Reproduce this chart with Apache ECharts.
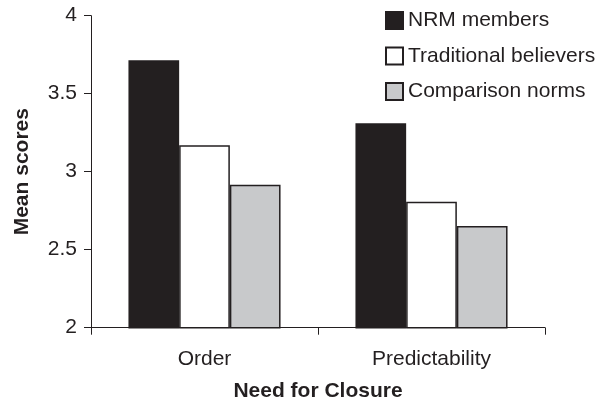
<!DOCTYPE html>
<html>
<head>
<meta charset="utf-8">
<script src="https://cdn.jsdelivr.net/npm/echarts@6/dist/echarts.min.js"></script>
<style>
html,body{margin:0;padding:0;background:#fff;}
#c{width:600px;height:401px;}
</style>
</head>
<body>
<div id="c"></div>
<script>
const categories = ["Order", "Predictability"];
const seriesNames = ["NRM members", "Traditional believers", "Comparison norms"];
const nrmMembers = [3.715, 3.31];
const traditionalBelievers = [3.17, 2.807];
const comparisonNorms = [2.917, 2.652];
const yTicks = [2, 2.5, 3, 3.5, 4];

const ink = '#231f20';
const fills = ['#231f20', '#ffffff', '#c8c9cb'];
const values = [nrmMembers, traditionalBelievers, comparisonNorms];
const font = 'Liberation Sans, Arial, Helvetica, sans-serif';

const chart = echarts.init(document.getElementById('c'), null, {renderer: 'canvas'});
chart.setOption({
  animation: false,
  backgroundColor: '#ffffff',
  grid: {left: 91, right: 55, top: 15.7, bottom: 73.3, containLabel: false, outerBoundsMode: 'none'},
  legend: {
    orient: 'vertical',
    left: 380,
    top: 5,
    itemWidth: 17,
    itemHeight: 17,
    itemGap: 14.5,
    icon: 'rect',
    textStyle: {fontFamily: font, fontSize: 21, color: ink},
    data: seriesNames
  },
  xAxis: {
    type: 'category',
    data: categories,
    name: 'Need for Closure',
    nameLocation: 'middle',
    nameGap: 53.5,
    nameTextStyle: {fontFamily: font, fontSize: 21, fontWeight: 'bold', color: ink},
    axisLine: {lineStyle: {color: ink, width: 1}},
    axisTick: {show: true, length: 7, lineStyle: {color: ink}},
    axisLabel: {fontFamily: font, fontSize: 21, color: ink, margin: 21}
  },
  yAxis: {
    type: 'value',
    min: yTicks[0],
    max: yTicks[yTicks.length - 1],
    interval: 0.5,
    name: 'Mean scores',
    nameLocation: 'middle',
    nameGap: 58,
    nameTextStyle: {fontFamily: font, fontSize: 21, fontWeight: 'bold', color: ink},
    axisLine: {show: true, lineStyle: {color: ink, width: 1}},
    axisTick: {show: true, length: 7, lineStyle: {color: ink}},
    axisLabel: {fontFamily: font, fontSize: 21, color: ink, margin: 14},
    splitLine: {show: false}
  },
  series: seriesNames.map((n, i) => ({
    name: n,
    type: 'bar',
    data: values[i],
    barGap: '0%',
    barCategoryGap: '33%',
    itemStyle: {color: fills[i], borderColor: ink, borderWidth: 1.5}
  }))
});
</script>
</body>
</html>
